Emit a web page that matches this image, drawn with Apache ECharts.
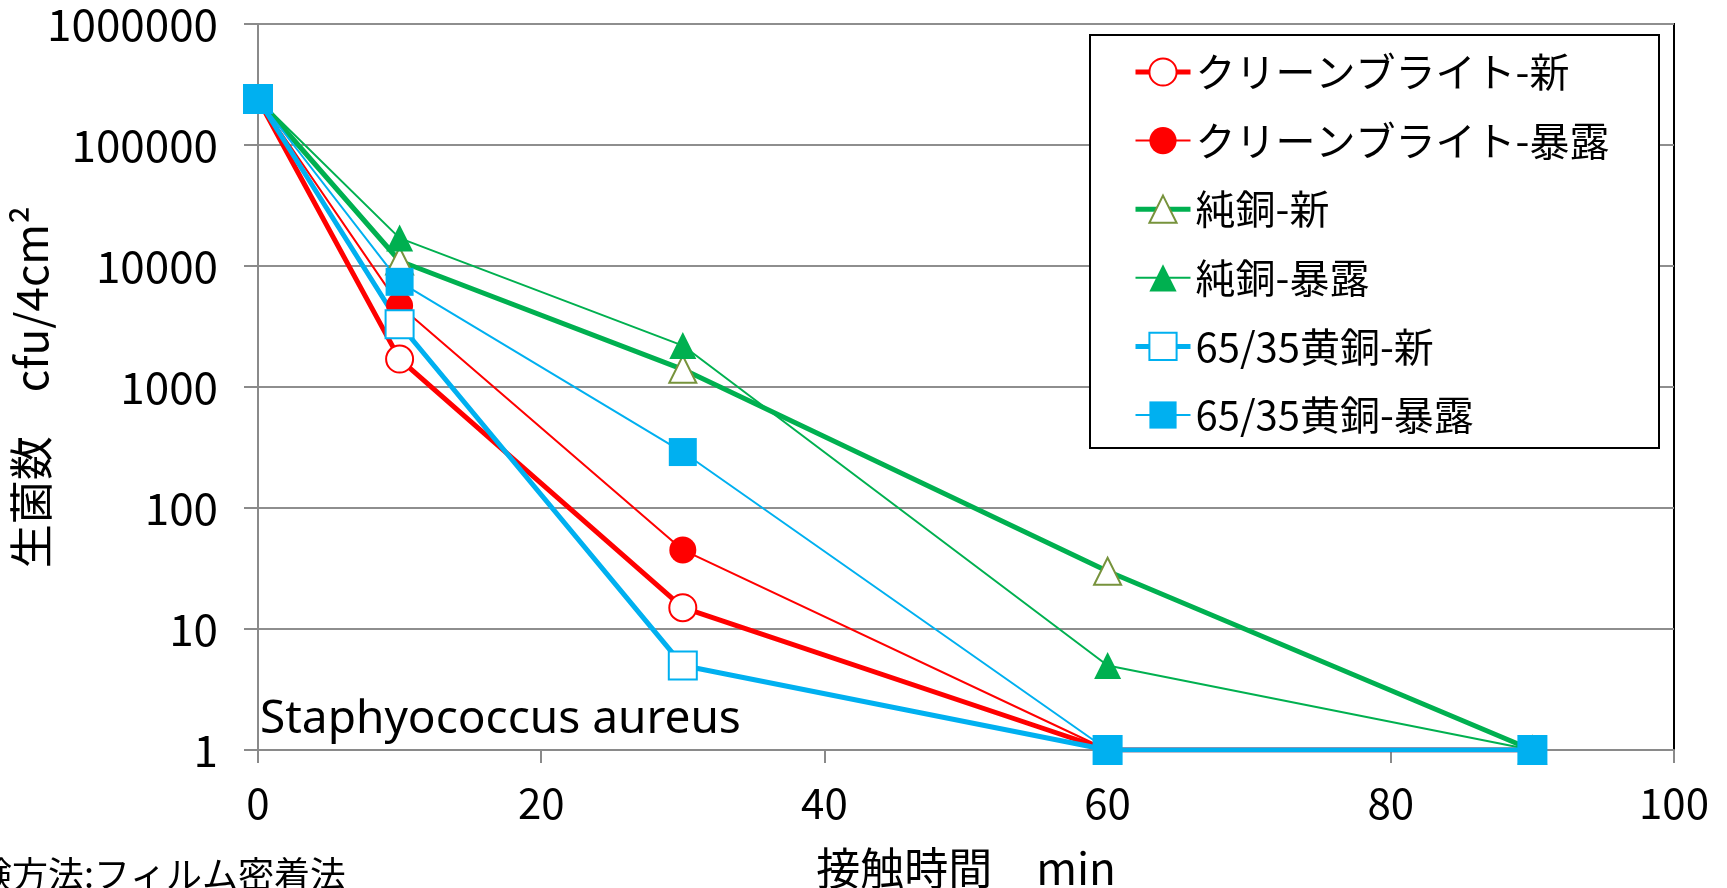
<!DOCTYPE html>
<html>
<head>
<meta charset="utf-8">
<script src="https://cdn.jsdelivr.net/npm/echarts@6/dist/echarts.min.js"></script>
<style>
html,body{margin:0;padding:0;background:#fff;}
#chart{width:1727px;height:888px;}
</style>
</head>
<body>
<div id="chart"></div>
<script>
// ---- data ----
const times = [0, 10, 30, 60, 90];
const seriesNames = [
  'クリーンブライト-新',
  'クリーンブライト-暴露',
  '純銅-新',
  '純銅-暴露',
  '65/35黄銅-新',
  '65/35黄銅-暴露'
];
const cleanNew   = [240000, 1700, 15, 1, 1];
const cleanExp   = [240000, 4700, 45, 1, 1];
const copperNew  = [240000, 11000, 1400, 30, 1];
const copperExp  = [240000, 17000, 2200, 5, 1];
const brassNew   = [240000, 3300, 5, 1, 1];
const brassExp   = [240000, 7400, 290, 1, 1];
const yTickLabels = ['1', '10', '100', '1000', '10000', '100000', '1000000'];
const xTickLabels = ['0', '20', '40', '60', '80', '100'];
const yAxisName = '生菌数　cfu/4cm²';
const xAxisName = '接触時間　min';
const organismLabel = 'Staphyococcus aureus';
const methodLabel = '試験方法:フィルム密着法';

const RED = '#FF0000', GREEN = '#00B050', BLUE = '#00B0F0', OLIVE = '#77933C';
const JP = '"Noto Sans CJK JP", "Noto Sans", sans-serif';

function pairs(arr) { return arr.map((v, i) => [times[i], v]); }

function mk(name, data, color, symbol, open, thick, borderColor) {
  return {
    name: name,
    type: 'line',
    data: pairs(data),
    symbol: symbol,
    symbolSize: symbol === 'rect' ? 28 : 27,
    showAllSymbol: true,
    lineStyle: { color: color, width: thick ? 5 : 2 },
    itemStyle: open
      ? { color: '#ffffff', borderColor: borderColor || color, borderWidth: 2 }
      : { color: color, borderColor: color, borderWidth: 0 },
    emphasis: { disabled: true },
    animation: false
  };
}

const thickFlags = [true, false, true, false, true, false];
const legendData = seriesNames.map((n, i) => ({
  name: n,
  lineStyle: { width: thickFlags[i] ? 5 : 2 }
}));

const chart = echarts.init(document.getElementById('chart'), null, { renderer: 'canvas' });
chart.setOption({
  backgroundColor: '#ffffff',
  animation: false,
  grid: {
    left: 258, right: 53, top: 24, bottom: 138,
    outerBoundsMode: 'none', containLabel: false,
    show: true, borderColor: '#000000', borderWidth: 2, backgroundColor: 'transparent'
  },
  xAxis: {
    type: 'value', min: 0, max: 100, interval: 20,
    name: xAxisName, nameLocation: 'middle', nameGap: 96, nameMoveOverlap: false,
    nameTextStyle: { fontFamily: JP, fontSize: 44, color: '#000' },
    axisLine: { show: true, lineStyle: { color: '#8a8a8a', width: 2 } },
    axisTick: { show: true, inside: false, length: 13, lineStyle: { color: '#8a8a8a', width: 2 } },
    splitLine: { show: false },
    axisLabel: {
      margin: 32, fontFamily: JP, fontSize: 42, color: '#000',
      formatter: function (v) { const i = Math.round(v / 20); return xTickLabels[i] !== undefined ? xTickLabels[i] : ''; }
    }
  },
  yAxis: {
    type: 'log', logBase: 10, min: 1, max: 1000000, splitNumber: 6,
    name: yAxisName, nameLocation: 'middle', nameGap: 205, nameRotate: 90, nameMoveOverlap: false,
    nameTextStyle: { fontFamily: JP, fontSize: 44, color: '#000' },
    axisLine: { show: true, lineStyle: { color: '#8a8a8a', width: 2 } },
    axisTick: { show: true, inside: false, length: 14, lineStyle: { color: '#8a8a8a', width: 2 } },
    minorTick: { show: false },
    splitLine: { show: true, lineStyle: { color: '#8e8e8e', width: 2 } },
    axisLabel: {
      margin: 40, fontFamily: JP, fontSize: 44, color: '#000',
      formatter: function (v) { const i = Math.round(Math.log10(v)); return yTickLabels[i] !== undefined ? yTickLabels[i] : ''; }
    }
  },
  legend: {
    show: true, orient: 'vertical', left: 1128, top: 43,
    itemWidth: 55, itemHeight: 34, itemGap: 20.6,
    textStyle: { fontFamily: JP, fontSize: 40, color: '#000', lineHeight: 48 },
    data: legendData,
    selectedMode: false,
    z: 10
  },
  graphic: [
    {
      type: 'rect', z: 5, silent: true,
      shape: { x: 1090, y: 35, width: 569, height: 413 },
      style: { fill: '#ffffff', stroke: '#000000', lineWidth: 2 }
    },
    {
      type: 'text', z: 5, silent: true, x: 260, y: 720,
      style: { text: organismLabel, fontFamily: '"Noto Sans", sans-serif', fontSize: 46, fill: '#000', verticalAlign: 'middle' }
    },
    {
      type: 'text', z: 5, silent: true, x: -60, y: 856,
      style: { text: methodLabel, fontFamily: JP, fontSize: 36, fill: '#000', verticalAlign: 'top' }
    }
  ],
  series: [
    mk(seriesNames[0], cleanNew, RED, 'circle', true, true),
    mk(seriesNames[1], cleanExp, RED, 'circle', false, false),
    mk(seriesNames[2], copperNew, GREEN, 'triangle', true, true, OLIVE),
    mk(seriesNames[3], copperExp, GREEN, 'triangle', false, false),
    mk(seriesNames[4], brassNew, BLUE, 'rect', true, true),
    mk(seriesNames[5], brassExp, BLUE, 'rect', false, false)
  ]
});
</script>
</body>
</html>
